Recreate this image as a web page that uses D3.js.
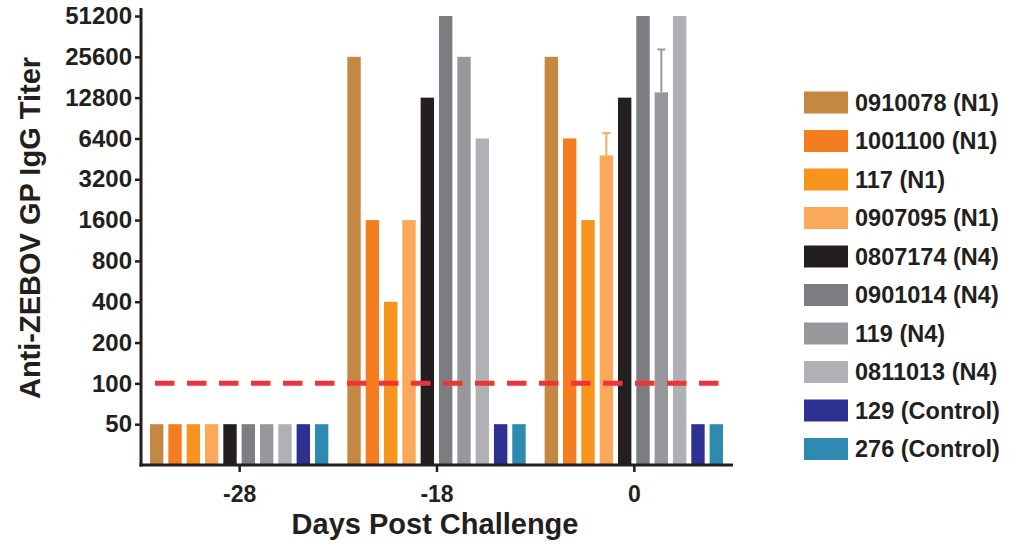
<!DOCTYPE html>
<html><head><meta charset="utf-8">
<script src="https://cdn.jsdelivr.net/npm/d3@7"></script>
<style>
body{margin:0;background:#fff;}
text{font-family:"Liberation Sans",Arial,sans-serif;font-weight:bold;fill:#231f20;}
</style></head>
<body><svg id="c" width="1014" height="544"></svg>
<script>
const days = ["-28", "-18", "0"];
const subjects = ["0910078 (N1)","1001100 (N1)","117 (N1)","0907095 (N1)","0807174 (N4)","0901014 (N4)","119 (N4)","0811013 (N4)","129 (Control)","276 (Control)"];
const colors = ["#C48842","#F47D20","#F7941D","#FAA859","#231F20","#7C7D80","#97989B","#B0B1B4","#2E3192","#2E8AB0"];
const titerDay28 = [50,50,50,50,50,50,50,50,50,50];
const titerDay18 = [25600,1600,400,1600,12800,51200,25600,6400,50,50];
const titerDay0  = [25600,6400,1600,4800,12800,51200,14000,51200,50,50];
const errorUpperDay0 = [null,null,null,7000,null,null,29000,null,null,null];
const yTicks = [50,100,200,400,800,1600,3200,6400,12800,25600,51200];
const threshold = 100;

const seriesByDay = [titerDay28, titerDay18, titerDay0];
const errByDay = [subjects.map(()=>null), subjects.map(()=>null), errorUpperDay0];

const svg = d3.select("#c");
const mLeft = 141, mRight = 733, mBase = 465, mTop = 16;

const y = d3.scaleLog().base(2).domain([25, 51200]).range([mBase, mTop]);
const x0 = d3.scaleBand().domain(days).range([mLeft, mRight]).paddingInner(0).paddingOuter(0);
const x1 = d3.scaleBand().domain(subjects).range([9, x0.bandwidth()-10]).paddingInner(0.27).paddingOuter(0);

// bars
days.forEach((d, di) => {
  const g = svg.append("g").attr("transform", `translate(${x0(d)},0)`);
  g.selectAll("rect").data(subjects).join("rect")
    .attr("x", s => x1(s))
    .attr("width", x1.bandwidth())
    .attr("y", (s,i) => y(seriesByDay[di][i]))
    .attr("height", (s,i) => mBase - y(seriesByDay[di][i]))
    .attr("fill", (s,i) => colors[i]);
  subjects.forEach((s,i) => {
    const e = errByDay[di][i];
    if (e == null) return;
    const cx = x1(s) + x1.bandwidth()/2;
    g.append("line").attr("x1", cx).attr("x2", cx)
      .attr("y1", y(seriesByDay[di][i])).attr("y2", y(e))
      .attr("stroke", colors[i]).attr("stroke-width", 2);
    g.append("line").attr("x1", cx-4).attr("x2", cx+4)
      .attr("y1", y(e)).attr("y2", y(e))
      .attr("stroke", colors[i]).attr("stroke-width", 2);
  });
});

// threshold line
svg.append("line")
  .attr("x1", x0(days[0]) + x1(subjects[0]) + 5)
  .attr("x2", x0(days[2]) + x1(subjects[9]) + x1.bandwidth())
  .attr("y1", y(threshold)).attr("y2", y(threshold))
  .attr("stroke", "#EE3438").attr("stroke-width", 5)
  .attr("stroke-dasharray", "19.5,12.5");

// y axis
const ya = svg.append("g").attr("transform", `translate(${mLeft},0)`)
  .call(d3.axisLeft(y).tickValues(yTicks).tickFormat(d3.format("d")).tickSize(6).tickPadding(3));
ya.select(".domain").remove();
ya.selectAll(".tick line").attr("stroke", "#231f20").attr("stroke-width", 2.5);
ya.selectAll(".tick text").attr("font-size", 24).attr("font-family", null).style("font-weight","bold");
svg.append("line").attr("x1", mLeft).attr("x2", mLeft).attr("y1", 8).attr("y2", mBase+1.5)
  .attr("stroke", "#231f20").attr("stroke-width", 3);

// x axis
const xa = svg.append("g").attr("transform", `translate(0,${mBase})`)
  .call(d3.axisBottom(x0).tickSize(7).tickPadding(14));
xa.select(".domain").remove();
xa.selectAll(".tick line").attr("stroke", "#231f20").attr("stroke-width", 2.5);
xa.selectAll(".tick text").attr("font-size", 23).attr("font-family", null).style("font-weight","bold");
svg.append("line").attr("x1", mLeft-1.5).attr("x2", mRight).attr("y1", mBase).attr("y2", mBase)
  .attr("stroke", "#231f20").attr("stroke-width", 3);

// titles
svg.append("text").attr("x", (mLeft+mRight)/2 - 2).attr("y", 534)
  .attr("text-anchor", "middle").attr("font-size", 29).text("Days Post Challenge");
svg.append("text").attr("transform", "translate(40,228) rotate(-90)")
  .attr("text-anchor", "middle").attr("font-size", 29).text("Anti-ZEBOV GP IgG Titer");

// legend
const lg = svg.append("g").attr("transform", "translate(804,0)");
subjects.forEach((s,i) => {
  const cy = 102.5 + i*38.5;
  lg.append("rect").attr("x", 0).attr("y", cy-11).attr("width", 44).attr("height", 22).attr("fill", colors[i]);
  lg.append("text").attr("x", 51).attr("y", cy).attr("dy", "0.36em").attr("font-size", 23.5).text(s);
});
</script></body></html>
